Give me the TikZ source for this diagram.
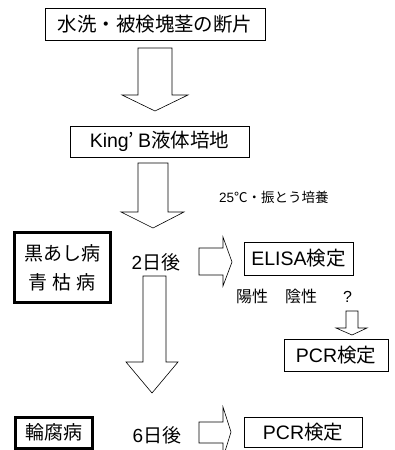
\documentclass[tikz,border=0pt]{standalone}
\usepackage{fontspec}
\setmainfont{Liberation Sans}
\newfontfamily\jp{Noto Sans CJK JP}
\begin{document}
\begin{tikzpicture}[x=1pt,y=-1pt,
  box/.style={draw,line width=0.8pt,inner sep=0pt,font=\fontsize{19.5}{21}\selectfont},
  thickbox/.style={draw,line width=3pt,inner sep=0pt,font=\fontsize{19}{21}\selectfont},
  lbl/.style={inner sep=0pt,font=\fontsize{19}{21}\selectfont},
  small/.style={inner sep=0pt,font=\fontsize{13.5}{15}\selectfont},
  mid/.style={inner sep=0pt,font=\fontsize{16}{18}\selectfont},
  blk/.style={draw,line width=0.6pt,fill=white,line join=miter}]
\useasboundingbox (0,0) rectangle (395,450);
% boxes
\node[box,minimum width=220pt,minimum height=32pt] (b1) at (155,24) {\jp 水洗・被検塊茎の断片};
\node[box,minimum width=179pt,minimum height=31pt] (b2) at (159.5,141.5) {King{\jp ’}\hspace{4pt}B{\jp 液体培地}\hspace{8pt}};
\node[thickbox,minimum width=96pt,minimum height=70pt] (t1) at (62.5,267.5) {};
\node[lbl] (t1a) at (62,253) {\jp 黒あし病};
\node[lbl] (t1b) at (62,282) {\jp 青\hspace{5pt}枯\hspace{5pt}病};
\node[lbl] (d2) at (156,262) {2{\jp 日後}};
\node[box,minimum width=109pt,minimum height=33pt] (elisa) at (298.5,258.5) {ELISA{\jp 検定}\hspace{4pt}};
\node[mid,anchor=west] (res) at (236,296) {{\jp 陽性}\hspace{17pt}{\jp 陰性}\hspace{26pt}?};
\node[box,minimum width=104pt,minimum height=32pt] (pcr1) at (336,355) {PCR{\jp 検定}\hspace{4pt}};
\node[small,anchor=west] (cond) at (219,197) {25{\jp ℃・振とう培養}};
\node[thickbox,minimum width=77pt,minimum height=31pt] (t2) at (53.5,432.5) {\jp 輪腐病};
\node[lbl] (d6) at (157,435) {6{\jp 日後}};
\node[box,minimum width=118pt,minimum height=30pt] (pcr2) at (303,432) {PCR{\jp 検定}\hspace{20pt}};
% block arrows (down)
\draw[blk] (138,48) -- (172,48) -- (172,95) -- (188,95) -- (155,111) -- (122,95) -- (138,95) -- cycle;
\draw[blk] (138,163) -- (168,163) -- (168,212) -- (184,212) -- (153,228) -- (121,212) -- (138,212) -- cycle;
\draw[blk] (143,276) -- (166,276) -- (166,362) -- (178,362) -- (152,393) -- (126,362) -- (143,362) -- cycle;
\draw[blk] (346,311) -- (358,311) -- (358,328) -- (367,328) -- (352,335) -- (336,328) -- (346,328) -- cycle;
% block arrows (right)
\draw[blk] (199,248) -- (223,248) -- (223,237) -- (232,262) -- (223,286) -- (223,275) -- (199,275) -- cycle;
\draw[blk] (199,422) -- (223,422) -- (223,407) -- (231,432) -- (223,458) -- (223,443) -- (199,443) -- cycle;
\end{tikzpicture}
\end{document}
